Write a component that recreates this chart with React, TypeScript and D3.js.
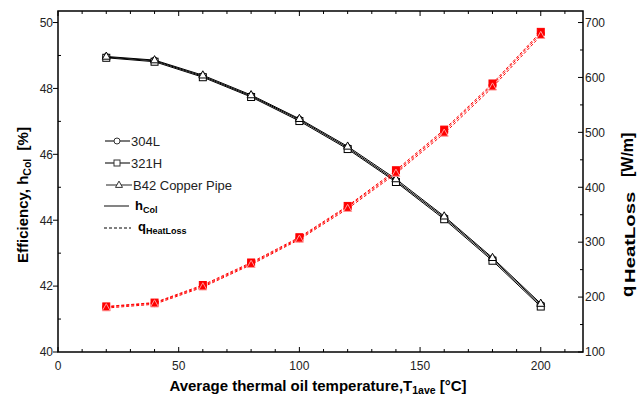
import React from 'react';
import * as d3 from 'd3';

const temps = [20, 40, 60, 80, 100, 120, 140, 160, 180, 200];
const eff304L = [48.95, 48.84, 48.37, 47.77, 47.05, 46.2, 45.2, 44.08, 42.82, 41.43];
const eff321H = [48.93, 48.81, 48.34, 47.74, 47.01, 46.16, 45.16, 44.03, 42.77, 41.38];
const effB42 = [48.97, 48.86, 48.4, 47.8, 47.08, 46.24, 45.25, 44.12, 42.86, 41.47];
const q304L = [182, 189, 220, 261, 307, 364, 428, 502, 586, 680];
const q321H = [183, 190, 222, 263, 309, 366, 431, 505, 589, 683];
const qB42 = [180, 187, 218, 259, 305, 361, 425, 498, 582, 676];
const xTicks = [0, 50, 100, 150, 200];
const yLTicks = [40, 42, 44, 46, 48, 50];
const yRTicks = [100, 200, 300, 400, 500, 600, 700];

const FONT = 'Liberation Sans, Arial, sans-serif';

function Tri({ cx, cy, s, fill, stroke }: any) {
  const h = s * 0.9;
  const p = `M${cx},${cy - h * 0.62} L${cx + s / 2},${cy + h * 0.38} L${cx - s / 2},${cy + h * 0.38} Z`;
  return <path d={p} fill={fill} stroke={stroke} strokeWidth={1} />;
}

export default function App() {
  const W = 642, H = 398;
  const L = 58, R = 583, T = 11, B = 352;
  const x = d3.scaleLinear().domain([0, 217.5]).range([L, R]);
  const yL = d3.scaleLinear().domain([40, 50.35]).range([B, T]);
  const yR = d3.scaleLinear().domain([100, 721]).range([B, T]);

  const lineL = (vals: number[]) =>
    d3.line<number>().x((_, i) => x(temps[i])).y((v) => yL(v))(vals) as string;
  const lineR = (vals: number[]) =>
    d3.line<number>().x((_, i) => x(temps[i])).y((v) => yR(v))(vals) as string;

  const effSeries = [eff304L, eff321H, effB42];
  const qSeries = [q304L, q321H, qB42];

  const xMinor = d3.range(10, 217, 10).filter((v) => v % 50 !== 0);
  const yLMinor = d3.range(41, 50.3, 2);
  const yRMinor = d3.range(150, 721, 100);

  const legY = [141, 163, 185, 206, 228];

  return (
    <svg width={W} height={H} style={{ position: 'absolute', left: 0, top: 0, background: '#fff' }}
      fontFamily={FONT}>
      <rect x={0} y={0} width={W} height={H} fill="#fff" />
      {/* frame */}
      <rect x={L} y={T} width={R - L} height={B - T} fill="none" stroke="#000" strokeWidth={1.5} />

      {/* bottom/top ticks */}
      {xTicks.map((v) => (
        <g key={'xt' + v}>
          <line x1={x(v)} x2={x(v)} y1={B} y2={B - 5} stroke="#000" />
          <line x1={x(v)} x2={x(v)} y1={T} y2={T + 5} stroke="#000" />
          <text x={x(v)} y={370} fontSize={12} textAnchor="middle" fill="#222">{v}</text>
        </g>
      ))}
      {xMinor.map((v) => (
        <g key={'xm' + v}>
          <line x1={x(v)} x2={x(v)} y1={B} y2={B - 3} stroke="#000" />
          <line x1={x(v)} x2={x(v)} y1={T} y2={T + 3} stroke="#000" />
        </g>
      ))}
      {/* left ticks */}
      {yLTicks.map((v) => (
        <g key={'yl' + v}>
          <line x1={L} x2={L - 5} y1={yL(v)} y2={yL(v)} stroke="#000" />
          <text x={53} y={yL(v) + 4.3} fontSize={12} textAnchor="end" fill="#222">{v}</text>
        </g>
      ))}
      {yLMinor.map((v) => (
        <line key={'ylm' + v} x1={L} x2={L + 3} y1={yL(v)} y2={yL(v)} stroke="#000" />
      ))}
      {/* right ticks */}
      {yRTicks.map((v) => (
        <g key={'yr' + v}>
          <line x1={R} x2={R - 5} y1={yR(v)} y2={yR(v)} stroke="#000" />
          <text x={585} y={yR(v) + 4.3} fontSize={12} textAnchor="start" fill="#222">{v}</text>
        </g>
      ))}
      {yRMinor.map((v) => (
        <line key={'yrm' + v} x1={R} x2={R - 3} y1={yR(v)} y2={yR(v)} stroke="#000" />
      ))}

      {/* lines */}
      {effSeries.map((s, i) => (
        <path key={'el' + i} d={lineL(s)} fill="none" stroke="#000" strokeWidth={1} />
      ))}
      {qSeries.map((s, i) => (
        <path key={'ql' + i} d={lineR(s)} fill="none" stroke="#ff0000" strokeWidth={1} strokeDasharray="3,2" />
      ))}

      {/* markers efficiency */}
      {eff304L.map((v, i) => (
        <circle key={'ec' + i} cx={x(temps[i])} cy={yL(v)} r={3.5} fill="#fff" stroke="#000" />
      ))}
      {eff321H.map((v, i) => (
        <rect key={'es' + i} x={x(temps[i]) - 3.5} y={yL(v) - 3.5} width={7} height={7} fill="#fff" stroke="#000" />
      ))}
      {effB42.map((v, i) => (
        <Tri key={'et' + i} cx={x(temps[i])} cy={yL(v)} s={8} fill="#fff" stroke="#000" />
      ))}
      {/* markers heat loss */}
      {q304L.map((v, i) => (
        <circle key={'qc' + i} cx={x(temps[i])} cy={yR(v)} r={3.5} fill="#ff0000" stroke="#ff0000" />
      ))}
      {q321H.map((v, i) => (
        <rect key={'qs' + i} x={x(temps[i]) - 3.5} y={yR(v) - 3.5} width={7} height={7} fill="#ff0000" stroke="#ff0000" />
      ))}
      {qB42.map((v, i) => (
        <Tri key={'qt' + i} cx={x(temps[i])} cy={yR(v)} s={8} fill="#ff0000" stroke="#ff9a9a" />
      ))}

      {/* legend */}
      <g>
        <line x1={105} x2={130} y1={legY[0]} y2={legY[0]} stroke="#333" strokeWidth={1.3} />
        <circle cx={117} cy={legY[0]} r={3} fill="#fff" stroke="#333" />
        <text x={131} y={legY[0] + 4.5} fontSize={13} fill="#222">304L</text>

        <line x1={105} x2={130} y1={legY[1]} y2={legY[1]} stroke="#333" strokeWidth={1.3} />
        <rect x={114} y={legY[1] - 3} width={6} height={6} fill="#fff" stroke="#333" />
        <text x={131} y={legY[1] + 4.5} fontSize={13} fill="#222">321H</text>

        <line x1={106} x2={132} y1={legY[2]} y2={legY[2]} stroke="#555" strokeWidth={1.3} />
        <Tri cx={119} cy={legY[2]} s={7} fill="#fff" stroke="#333" />
        <text x={133} y={legY[2] + 4.5} fontSize={13} fill="#222">B42 Copper Pipe</text>

        <line x1={104} x2={129} y1={legY[3]} y2={legY[3]} stroke="#333" strokeWidth={1.2} />
        <text x={135} y={legY[3] + 4} fontSize={13} fontWeight="bold" fill="#000">
          h<tspan fontSize={9} dy={3}>Col</tspan>
        </text>

        <line x1={104} x2={131} y1={legY[4]} y2={legY[4]} stroke="#000" strokeWidth={1} strokeDasharray="3,2" />
        <text x={138} y={legY[4] + 3} fontSize={13} fontWeight="bold" fill="#000">
          q<tspan fontSize={9} dy={3}>HeatLoss</tspan>
        </text>
      </g>

      {/* axis titles */}
      <text x={318} y={391} fontSize={15} fontWeight="bold" textAnchor="middle" fill="#000">
        Average thermal oil temperature,T<tspan fontSize={10.5} dy={3}>1ave</tspan>
        <tspan dy={-3}> [°C]</tspan>
      </text>
      <text transform={`translate(28,195) rotate(-90)`} fontSize={15} fontWeight="bold" textAnchor="middle" fill="#000">
        Efficiency, h<tspan fontSize={10.5} dy={3}>Col</tspan>
        <tspan dy={-3}>{'\u00a0\u00a0[%]'}</tspan>
      </text>
      <g transform="translate(633,0) rotate(-90)" fontWeight="bold" fill="#000">
        <text transform="translate(-297,0) scale(1.15,1)" fontSize={16}>q</text>
        <text transform="translate(-283,1.5) scale(1.45,1)" fontSize={14}>HeatLoss</text>
        <text transform="translate(-177,0)" fontSize={16}>[W/m]</text>
      </g>
    </svg>
  );
}
